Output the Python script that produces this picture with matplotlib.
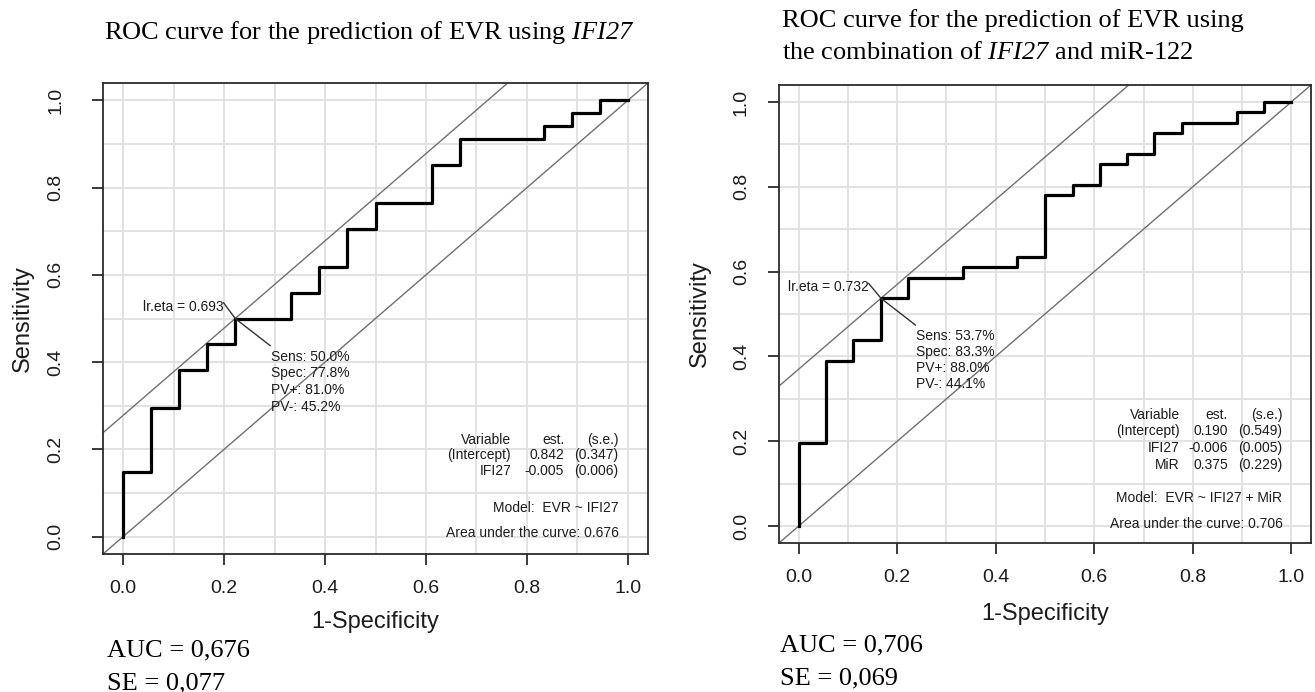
import matplotlib
matplotlib.use("Agg")
import matplotlib.pyplot as plt
import numpy as np

plt.rcParams['font.family'] = ['Liberation Sans', 'DejaVu Sans']
# math text only used for the italic gene name, digits included
plt.rcParams['mathtext.fontset'] = 'custom'
plt.rcParams['mathtext.rm'] = 'Liberation Serif:italic'
plt.rcParams['mathtext.it'] = 'Liberation Serif:italic'

# ROC staircase of IFI27 alone (1-specificity, sensitivity at each jump)
fpr_ifi = [0.0, 0.0, 0.056, 0.111, 0.167, 0.222, 0.333, 0.389, 0.444, 0.5,
           0.611, 0.667, 0.833, 0.889, 0.944, 1.0]
tpr_ifi = [0.0, 0.147, 0.294, 0.382, 0.441, 0.5, 0.559, 0.618, 0.706, 0.765,
           0.853, 0.912, 0.941, 0.971, 1.0, 1.0]
cut_ifi = (0.222, 0.5)

# ROC staircase of IFI27 + miR-122
fpr_comb = [0.0, 0.0, 0.056, 0.111, 0.167, 0.222, 0.333, 0.444, 0.5, 0.556,
            0.611, 0.667, 0.722, 0.778, 0.889, 0.944, 1.0]
tpr_comb = [0.0, 0.195, 0.390, 0.439, 0.537, 0.585, 0.610, 0.634, 0.780, 0.805,
            0.854, 0.878, 0.927, 0.951, 0.976, 1.0, 1.0]
cut_comb = (0.167, 0.537)

tick_vals = [0.0, 0.2, 0.4, 0.6, 0.8, 1.0]
tick_labels = ["0.0", "0.2", "0.4", "0.6", "0.8", "1.0"]

eta_ifi = "lr.eta = 0.693"
stats_ifi = ["Sens: 50.0%", "Spec: 77.8%", "PV+: 81.0%", "PV-: 45.2%"]
table_ifi = [("Variable", "est.", "(s.e.)"),
             ("(Intercept)", "0.842", "(0.347)"),
             ("IFI27", "-0.005", "(0.006)")]
model_ifi = "Model:  EVR ~ IFI27"
area_ifi = "Area under the curve: 0.676"

eta_comb = "lr.eta = 0.732"
stats_comb = ["Sens: 53.7%", "Spec: 83.3%", "PV+: 88.0%", "PV-: 44.1%"]
table_comb = [("Variable", "est.", "(s.e.)"),
              ("(Intercept)", "0.190", "(0.549)"),
              ("IFI27", "-0.006", "(0.005)"),
              ("MiR", "0.375", "(0.229)")]
model_comb = "Model:  EVR ~ IFI27 + MiR"
area_comb = "Area under the curve: 0.706"

W, H = 1315, 692
fig = plt.figure(figsize=(W / 100, H / 100), dpi=100)


def box(l, t, r, b):
    return [l / W, 1 - b / H, (r - l) / W, (b - t) / H]


def draw_panel(ax, px, fpr, tpr, cut, eta, eta_xy, stats, stats_xy, table,
               table_x, table_y, row_step, model, area, extra_y, ytick_pad,
               xlab_y, ylab_x):
    l, t, r, b = px
    ink = '#1c1c1c'
    for v in np.arange(0, 1.01, 0.1):
        ax.axvline(v, color='#e2e2e2', lw=1.4, zorder=0)
        ax.axhline(v, color='#e2e2e2', lw=1.4, zorder=0)
    ax.axline((0, 0), slope=1, color='#707070', lw=1.0, zorder=1)
    ax.axline(cut, slope=1, color='#707070', lw=1.0, zorder=1)
    ax.step(fpr, tpr, where='post', color='black', lw=2.3, zorder=3)

    ax.set_xlim(-0.04, 1.04)
    ax.set_ylim(-0.04, 1.04)
    ax.set_xticks(tick_vals)
    ax.set_xticklabels(tick_labels)
    ax.set_yticks(tick_vals)
    ax.set_yticklabels(tick_labels, rotation=90, va='center')
    ax.tick_params(axis='both', direction='out', length=8, width=1.3,
                   labelsize=14, colors='#2b2b2b', labelcolor=ink)
    ax.tick_params(axis='x', pad=11)
    ax.tick_params(axis='y', pad=ytick_pad)
    for s in ax.spines.values():
        s.set_color('#2b2b2b')
        s.set_linewidth(1.3)

    ax.set_xlabel("1-Specificity", fontsize=17, color=ink)
    ax.xaxis.set_label_coords(0.5, (b - xlab_y) / (b - t))
    ax.xaxis.label.set_va('center')
    ax.set_ylabel("Sensitivity", fontsize=17, color=ink)
    ax.yaxis.set_label_coords((ylab_x - l) / (r - l), 0.5)
    ax.yaxis.label.set_va('center')

    # optimal cut point annotation
    ax.plot([eta_xy[0], cut[0]], [eta_xy[1] + 0.009, cut[1]], color='#333333', lw=1.0, zorder=4)
    ax.plot([cut[0], stats_xy[0] - 0.002], [cut[1], stats_xy[1] + 0.026], color='#333333', lw=1.0, zorder=4)
    ax.text(eta_xy[0], eta_xy[1], eta, ha='right', va='center', fontsize=10, color=ink, zorder=5)
    for i, line in enumerate(stats):
        ax.text(stats_xy[0], stats_xy[1] - i * 0.038, line, ha='left', va='center',
                fontsize=10, color=ink, zorder=5)

    # logistic model table
    for i, row in enumerate(table):
        for x, cell in zip(table_x, row):
            ax.text(x, table_y - i * row_step, cell, ha='right', va='center',
                    fontsize=10, color=ink, zorder=5)
    ax.text(table_x[-1], extra_y[0], model, ha='right', va='center', fontsize=10, color=ink)
    ax.text(table_x[-1], extra_y[1], area, ha='right', va='center', fontsize=10, color=ink)


px1 = (103, 83, 648, 554)
px2 = (779, 85, 1311, 543)
ax1 = fig.add_axes(box(*px1))
ax2 = fig.add_axes(box(*px2))

draw_panel(ax1, px1, fpr_ifi, tpr_ifi, cut_ifi, eta_ifi, (0.199, 0.527),
           stats_ifi, (0.293, 0.412), table_ifi, (0.769, 0.874, 0.982), 0.222, 0.036,
           model_ifi, area_ifi, (0.066, 0.008), 20, 622, 23)
draw_panel(ax2, px2, fpr_comb, tpr_comb, cut_comb, eta_comb, (0.142, 0.563),
           stats_comb, (0.239, 0.448), table_comb, (0.774, 0.871, 0.982), 0.262, 0.039,
           model_comb, area_comb, (0.065, 0.005), 13, 614, 700)

serif = dict(family=['Liberation Serif', 'DejaVu Serif'], fontsize=19, color='black',
             ha='left', va='center')
fig.text(104 / W, 1 - 32 / H, r"ROC curve for the prediction of EVR using $\mathrm{IFI27}$", **serif)
fig.text(782 / W, 1 - 21 / H, "ROC curve for the prediction of EVR using", **serif)
fig.text(782 / W, 1 - 53 / H, r"the combination of $\mathrm{IFI27}$ and miR-122", **serif)

fig.text(107 / W, 1 - 650 / H, "AUC = 0,676", **serif)
fig.text(107 / W, 1 - 683 / H, "SE = 0,077", **serif)
fig.text(780 / W, 1 - 645 / H, "AUC = 0,706", **serif)
fig.text(780 / W, 1 - 678 / H, "SE = 0,069", **serif)

fig.savefig("out.png", dpi=100)
